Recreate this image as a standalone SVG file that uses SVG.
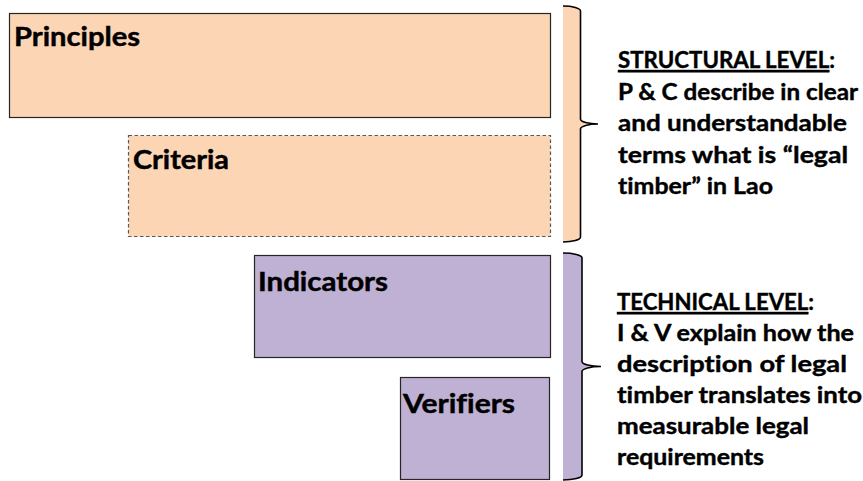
<svg xmlns="http://www.w3.org/2000/svg" width="863" height="481" viewBox="0 0 863 481">
  <style>
    .peach { fill: #FCD5B5; }
    .purple { fill: #BFB1D3; }
    .box { stroke: #262626; stroke-width: 1.2; }
    .dash { stroke: #595959; stroke-width: 1.2; stroke-dasharray: 3.5 2.5; }
    .brace { stroke: #000; stroke-width: 1.6; }
    .lbl { font-family: Lato, "Liberation Sans", sans-serif; font-weight: bold; font-size: 26px; fill: #000; stroke: #000; stroke-width: 0.45; font-variant-ligatures: none; }
    .desc { font-family: Lato, "Liberation Sans", sans-serif; font-weight: bold; font-size: 22px; fill: #000; stroke: #000; stroke-width: 0.4; font-variant-ligatures: none; }
    .u { text-decoration: underline; }
  </style>
  <rect width="863" height="481" fill="#fff"/>

  <g id="principles">
    <rect class="peach box" x="9.5" y="13.5" width="541" height="104"/>
    <text class="lbl" x="14" y="46" textLength="126" lengthAdjust="spacingAndGlyphs">Principles</text>
  </g>
  <g id="criteria">
    <rect class="peach dash" x="128.5" y="135.5" width="422" height="101"/>
    <text class="lbl" x="133" y="169" textLength="96" lengthAdjust="spacingAndGlyphs">Criteria</text>
  </g>
  <g id="indicators">
    <rect class="purple box" x="254.5" y="255.5" width="296" height="102"/>
    <text class="lbl" x="258" y="291" textLength="130" lengthAdjust="spacingAndGlyphs">Indicators</text>
  </g>
  <g id="verifiers">
    <rect class="purple box" x="400.5" y="377.5" width="149" height="102"/>
    <text class="lbl" x="403" y="413" textLength="112" lengthAdjust="spacingAndGlyphs">Verifiers</text>
  </g>

  <g id="connectors">
    <path class="peach brace" d="M563,6 A17.5,5 0 0 1 580.5,11 L580.5,119 A17.5,5 0 0 0 598,124 A17.5,5 0 0 0 580.5,129 L580.5,237 A17.5,5 0 0 1 563,242"/>
    <path class="purple brace" d="M563,253 A19,5 0 0 1 582,258 L582,361.5 A19,5 0 0 0 601,366.5 A19,5 0 0 0 582,371.5 L582,475 A19,5 0 0 1 563,480"/>
  </g>

  <g id="structural-level">
    <text class="desc" x="618" y="68" textLength="217" lengthAdjust="spacingAndGlyphs"><tspan class="u">STRUCTURAL LEVEL</tspan>:</text>
    <text class="desc" x="618" y="99.5" textLength="240" lengthAdjust="spacingAndGlyphs">P &amp; C describe in clear</text>
    <text class="desc" x="618" y="131" textLength="229" lengthAdjust="spacingAndGlyphs">and understandable</text>
    <text class="desc" x="618" y="162.5" textLength="230" lengthAdjust="spacingAndGlyphs">terms what is “legal</text>
    <text class="desc" x="618" y="194" textLength="155" lengthAdjust="spacingAndGlyphs">timber” in Lao</text>
  </g>
  <g id="technical-level">
    <text class="desc" x="617" y="310" textLength="197" lengthAdjust="spacingAndGlyphs"><tspan class="u">TECHNICAL LEVEL</tspan>:</text>
    <text class="desc" x="617" y="341" textLength="237" lengthAdjust="spacingAndGlyphs">I &amp; V explain how the</text>
    <text class="desc" x="617" y="372" textLength="230" lengthAdjust="spacingAndGlyphs">description of legal</text>
    <text class="desc" x="617" y="403" textLength="245" lengthAdjust="spacingAndGlyphs">timber translates into</text>
    <text class="desc" x="617" y="434" textLength="192" lengthAdjust="spacingAndGlyphs">measurable legal</text>
    <text class="desc" x="617" y="465" textLength="147" lengthAdjust="spacingAndGlyphs">requirements</text>
  </g>
</svg>
